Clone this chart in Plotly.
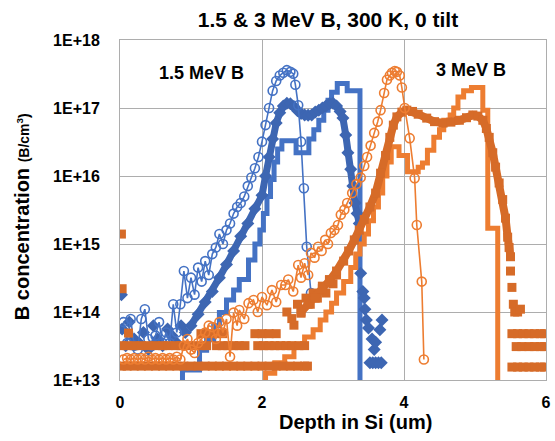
import plotly.graph_objects as go

# ---------------- 1.5 MeV B ----------------
# circles (thin line)
b_circ_x = [0.05, 0.10, 0.15, 0.20, 0.25, 0.30, 0.35, 0.40, 0.45, 0.50, 0.55, 0.60, 0.65, 0.70, 0.75,
            0.80, 0.85, 0.90, 0.95, 1.00, 1.05, 1.10, 1.15, 1.20, 1.25, 1.30, 1.35, 1.40, 1.45, 1.50,
            1.55, 1.60, 1.65, 1.70, 1.75, 1.80, 1.85, 1.90, 1.95, 2.00, 2.05, 2.10, 2.15, 2.20, 2.25,
            2.30, 2.35, 2.40, 2.44, 2.47, 2.51, 2.55, 2.59, 2.63, 2.69]
b_circ_y = [7.1e13, 3.5e13, 7.9e13, 3.2e13, 2.8e13, 7.9e13, 1.1e14, 4.0e13, 3.2e13, 4.5e13, 7.1e13, 3.5e13, 5.0e13, 3.5e13, 1.3e14,
            5.0e13, 1.3e14, 4.0e14, 1.6e14, 3.2e14, 1.8e14, 4.5e14, 2.8e14, 5.6e14, 3.5e14, 7.1e14, 8.9e14, 1.4e15, 1.0e15, 1.6e15,
            2.0e15, 2.8e15, 3.5e15, 4.0e15, 5.0e15, 7.1e15, 9.5e15, 1.3e16, 1.9e16, 3.2e16, 5.6e16, 1.0e17, 1.8e17, 2.5e17, 3.0e17,
            3.3e17, 3.6e17, 3.4e17, 3.2e17, 2.2e17, 1.1e17, 3.2e16, 6.6e15, 9.1e14, 1.9e14]

# diamonds: smooth profile
b_dia_x = [1.00, 1.10, 1.20, 1.30, 1.40, 1.50, 1.60, 1.70, 1.80, 1.90, 2.00, 2.05, 2.10, 2.15, 2.20, 2.25,
           2.30, 2.35, 2.40, 2.45, 2.50, 2.55, 2.60, 2.65, 2.70, 2.75, 2.80, 2.85, 2.90, 2.95, 3.00, 3.05,
           3.10, 3.14, 3.18, 3.21, 3.25, 3.28, 3.31, 3.34, 3.37]
b_dia_y = [6.3e13, 9.3e13, 1.4e14, 2.0e14, 3.2e14, 5.0e14, 7.9e14, 1.3e15, 2.0e15, 3.3e15, 5.2e15, 1.0e16, 1.9e16, 3.5e16, 6.0e16, 8.5e16,
           1.07e17, 1.17e17, 1.15e17, 1.05e17, 9.1e16, 8.3e16, 7.9e16, 7.8e16, 7.9e16, 8.7e16, 9.3e16, 1.0e17, 1.07e17, 1.15e17, 1.17e17, 1.07e17,
           8.9e16, 7.1e16, 4.0e16, 2.2e16, 1.26e16, 7.1e15, 4.0e15, 2.8e15, 2.0e15]
# diamonds: scattered low counts
b_dia_nx = [0.02, 0.03, 0.08, 0.13, 0.20, 0.27, 0.33, 0.40, 0.47, 0.53, 0.60, 0.67, 0.73, 0.80, 0.86, 0.92,
            3.39, 3.42, 3.44, 3.45, 3.47, 3.50, 3.55, 3.58, 3.60, 3.66, 3.69, 3.52, 3.56, 3.60, 3.64, 3.68]
b_dia_ny = [1.8e14, 5.6e13, 3.2e13, 7.1e13, 4.0e13, 3.5e13, 5.0e13, 2.8e13, 6.3e13, 4.0e13, 3.2e13, 5.6e13, 4.5e13, 3.5e13, 6.3e13, 5.0e13,
            3.7e14, 2.0e14, 1.6e14, 1.1e14, 7.6e13, 5.8e13, 4.0e13, 2.8e13, 3.6e13, 5.5e13, 7.6e13, 1.8e13, 1.8e13, 1.8e13, 1.8e13, 1.8e13]

# step histogram
b_step_x = [0.88, 0.88, 1.12, 1.22, 1.32, 1.40, 1.50, 1.60, 1.68, 1.81, 1.90, 1.97, 2.02, 2.07, 2.12, 2.17,
            2.22, 2.28, 2.48, 2.66, 2.73, 2.80, 2.87, 2.93, 2.98, 3.06, 3.20, 3.38]
b_step_y = [1e12, 1.4e13, 2.75e13, 3.9e13, 6.3e13, 9.8e13, 1.5e14, 2.1e14, 3.0e14, 5.8e14, 1.0e15, 1.6e15, 2.8e15, 5.0e15, 8.9e15, 1.6e16,
            2.5e16, 3.3e16, 2.2e16, 3.5e16, 4.8e16, 6.6e16, 9.3e16, 1.3e17, 1.7e17, 2.3e17, 1.8e17, 1e12]

# ---------------- 3 MeV B ----------------
o_circ_x = [0.05, 0.10, 0.15, 0.20, 0.25, 0.30, 0.35, 0.40, 0.45, 0.50, 0.55, 0.60, 0.65, 0.70, 0.75, 0.80, 0.85,
            0.90, 0.95, 1.00, 1.05, 1.10, 1.15, 1.20, 1.25, 1.30, 1.35, 1.40, 1.45, 1.50, 1.55, 1.60, 1.65, 1.68,
            1.75, 1.81, 1.88, 1.94, 2.00, 2.07, 2.14, 2.20, 2.27, 2.33, 2.37, 2.44, 2.51, 2.55, 2.60, 2.65, 2.69,
            2.74, 2.79, 2.84, 2.89, 2.93, 2.97, 3.02, 3.07, 3.11, 3.16, 3.20, 3.27, 3.33, 3.39, 3.44, 3.48, 3.53,
            3.58, 3.63, 3.67, 3.72, 3.76, 3.80, 3.83, 3.87, 3.90, 3.94, 3.97, 4.01, 4.08, 4.15, 4.18, 4.25, 4.28]
o_circ_y = [2.0e13, 2.1e13, 2.0e13, 2.1e13, 2.0e13, 2.1e13, 2.0e13, 2.2e13, 2.0e13, 2.1e13, 2.0e13, 2.1e13, 2.0e13, 2.1e13, 2.0e13, 2.2e13, 2.0e13,
            3.2e13, 4.0e13, 2.8e13, 2.5e13, 3.5e13, 4.0e13, 5.0e13, 6.3e13, 6.0e13, 4.0e13, 7.1e13, 5.0e13, 7.9e13, 2.2e13, 9.8e13, 6.3e13, 1.07e14,
            7.9e13, 1.35e14, 1.5e14, 1.0e14, 1.66e14, 1.26e14, 2.1e14, 1.4e14, 2.5e14, 2.5e14, 3.0e14, 2.0e14, 4.9e14, 3.2e14, 5.2e14, 3.5e14, 7.4e14,
            6.3e14, 9.1e14, 7.9e14, 1.15e15, 1.0e15, 1.45e15, 1.6e15, 1.9e15, 2.7e15, 3.2e15, 4.0e15, 5.6e15, 7.6e15, 9.5e15, 1.4e16, 1.9e16, 2.8e16,
            4.3e16, 6.3e16, 9.3e16, 1.66e17, 2.6e17, 3.0e17, 3.3e17, 3.5e17, 3.4e17, 3.0e17, 2.0e17, 1.0e17, 3.6e16, 9.3e15, 1.9e15, 2.8e14, 2.0e13]

# squares: smooth profile
o_sq_x = [2.55, 2.65, 2.75, 2.85, 2.95, 3.05, 3.15, 3.22, 3.30, 3.37, 3.44, 3.52, 3.60, 3.67, 3.74, 3.80,
          3.85, 3.90, 3.97, 4.04, 4.12, 4.20, 4.32, 4.43, 4.55, 4.66, 4.78, 4.88, 4.97, 5.04, 5.11, 5.16,
          5.20, 5.25, 5.29, 5.34, 5.39, 5.43, 5.46, 5.48, 5.50]
o_sq_y = [1.0e14, 1.3e14, 1.6e14, 2.2e14, 2.9e14, 4.0e14, 5.6e14, 7.9e14, 1.15e15, 1.6e15, 2.3e15, 3.5e15, 5.6e15, 1.1e16, 2.0e16, 3.7e16,
          5.6e16, 7.4e16, 8.7e16, 9.3e16, 8.9e16, 8.1e16, 7.1e16, 6.3e16, 6.0e16, 6.2e16, 6.6e16, 7.2e16, 7.9e16, 7.6e16, 6.6e16, 5.0e16,
          3.7e16, 2.2e16, 1.35e16, 7.9e15, 4.5e15, 2.4e15, 1.26e15, 8.9e14, 6.5e14]
# squares: scattered low counts
o_sq_nx = [0.02, 0.03, 0.12,
           0.02, 0.10, 0.20, 0.30, 0.40, 0.50, 0.60, 0.70, 0.80, 0.90, 1.00, 1.10, 1.20, 1.30, 1.40, 1.50, 1.60, 1.70,
           1.80, 1.90, 2.00, 2.10, 2.20, 2.30, 2.40, 2.50, 2.60, 2.64,
           0.02, 0.10, 0.20, 0.30, 0.40, 0.50, 0.60, 0.68, 0.78, 0.86, 0.98, 1.06, 1.14, 1.22, 1.36, 1.44, 1.52, 1.60,
           1.68, 1.76, 1.94, 2.02, 2.10, 2.18, 2.26, 2.34, 2.42, 2.52, 2.60,
           1.14, 1.24, 1.35, 1.45, 1.90, 2.00, 2.10, 2.20, 2.45,
           2.35, 2.42, 2.50, 2.55, 2.62, 2.68, 2.72, 2.78, 2.85, 2.90, 2.95, 3.00, 3.05,
           5.50, 5.52, 5.54, 5.56, 5.60, 5.64,
           5.52, 5.60, 5.68, 5.76, 5.84, 5.92, 5.98,
           5.58, 5.66, 5.76, 5.84, 5.92, 5.98,
           5.52, 5.60, 5.68, 5.76, 5.84, 5.92, 5.98]
o_sq_ny = [1.4e15, 2.2e14, 4.9e13,
           1.6e13, 1.6e13, 1.6e13, 1.6e13, 1.6e13, 1.6e13, 1.6e13, 1.6e13, 1.6e13, 1.6e13, 1.6e13, 1.6e13, 1.6e13, 1.6e13, 1.6e13, 1.6e13, 1.6e13, 1.6e13,
           1.6e13, 1.6e13, 1.6e13, 1.6e13, 1.6e13, 1.6e13, 1.6e13, 1.6e13, 1.6e13, 1.6e13,
           3.2e13, 3.2e13, 3.2e13, 3.2e13, 3.2e13, 3.2e13, 3.2e13, 3.2e13, 3.2e13, 3.2e13, 3.2e13, 3.2e13, 3.2e13, 3.2e13, 3.2e13, 3.2e13, 3.2e13, 3.2e13,
           3.2e13, 3.2e13, 3.2e13, 3.2e13, 3.2e13, 3.2e13, 3.2e13, 3.2e13, 3.2e13, 3.2e13, 3.2e13,
           4.8e13, 4.8e13, 4.8e13, 4.8e13, 4.8e13, 4.8e13, 4.8e13, 4.8e13, 6.4e13,
           1.0e14, 8.0e13, 1.3e14, 9.6e13, 1.6e14, 1.3e14, 1.9e14, 1.6e14, 2.4e14, 1.9e14, 3.0e14, 2.6e14, 3.5e14,
           4.0e14, 2.3e14, 1.3e14, 1.0e14, 1.0e14, 1.1e14,
           4.8e13, 4.8e13, 4.8e13, 4.8e13, 4.8e13, 4.8e13, 4.8e13,
           3.1e13, 3.1e13, 3.1e13, 3.1e13, 3.1e13, 3.1e13,
           1.55e13, 1.55e13, 1.55e13, 1.55e13, 1.55e13, 1.55e13, 1.55e13]

# step histogram
o_step_x = [2.05, 2.05, 2.18, 2.32, 2.45, 2.60, 2.72, 2.82, 2.90, 2.98, 3.05, 3.15, 3.25, 3.32, 3.38, 3.44,
            3.50, 3.57, 3.64, 3.70, 3.76, 3.82, 3.93, 4.05, 4.20, 4.26, 4.33, 4.42, 4.50, 4.56, 4.65, 4.70,
            4.76, 4.84, 4.95, 5.11, 5.18, 5.32]
o_step_y = [1e12, 1.26e13, 1.8e13, 2.2e13, 3.1e13, 4.3e13, 5.5e13, 7.6e13, 1.0e14, 1.35e14, 1.9e14, 2.8e14, 4.5e14, 7.1e14, 1.0e15, 1.4e15,
            2.2e15, 3.5e15, 5.6e15, 1.0e16, 1.6e16, 2.7e16, 2.0e16, 1.15e16, 1.35e16, 1.55e16, 2.4e16, 3.7e16, 4.8e16, 6.6e16, 7.9e16, 1.0e17,
            1.45e17, 1.8e17, 2.0e17, 9.3e16, 1.7e15, 1e12]

y_tickvals = [1e13, 1e14, 1e15, 1e16, 1e17, 1e18]
y_ticktext = ["1E+13", "1E+14", "1E+15", "1E+16", "1E+17", "1E+18"]
x_tickvals = [0, 2, 4, 6]
x_ticktext = ["0", "2", "4", "6"]

BLUE = "#4472C4"
BLUE_D = "#3D66B2"
ORANGE = "#ED7D31"
ORANGE_D = "#D66B28"
FONT = "Arial, Liberation Sans, sans-serif"

fig = go.Figure()
# blue
fig.add_trace(go.Scatter(x=b_step_x, y=b_step_y, mode="lines", line=dict(color=BLUE, width=5, shape="hv")))
fig.add_trace(go.Scatter(x=b_dia_nx, y=b_dia_ny, mode="markers",
                         marker=dict(symbol="diamond", size=10, color=BLUE_D)))
fig.add_trace(go.Scatter(x=b_dia_x, y=b_dia_y, mode="lines+markers", line=dict(color=BLUE_D, width=7),
                         marker=dict(symbol="diamond", size=10, color=BLUE_D)))
fig.add_trace(go.Scatter(x=b_circ_x, y=b_circ_y, mode="lines+markers", line=dict(color=BLUE, width=1.6),
                         marker=dict(symbol="circle-open", size=9, color=BLUE, line=dict(width=1.6, color=BLUE))))
# orange
fig.add_trace(go.Scatter(x=o_step_x, y=o_step_y, mode="lines", line=dict(color=ORANGE, width=5, shape="hv")))
fig.add_trace(go.Scatter(x=o_sq_nx, y=o_sq_ny, mode="markers",
                         marker=dict(symbol="square", size=9, color=ORANGE_D)))
fig.add_trace(go.Scatter(x=o_sq_x, y=o_sq_y, mode="lines+markers", line=dict(color=ORANGE_D, width=8),
                         marker=dict(symbol="square", size=9, color=ORANGE_D)))
fig.add_trace(go.Scatter(x=o_circ_x, y=o_circ_y, mode="lines+markers", line=dict(color=ORANGE, width=1.6),
                         marker=dict(symbol="circle-open", size=9, color=ORANGE, line=dict(width=1.6, color=ORANGE))))

GRID = "#ADADAD"
fig.update_layout(
    width=555, height=441,
    margin=dict(l=120, r=4, t=40, b=61),
    paper_bgcolor="white", plot_bgcolor="white",
    showlegend=False,
    font=dict(family=FONT, color="black"),
    title=dict(text="<b>1.5 & 3 MeV B, 300 K, 0 tilt</b>", x=328 / 555, xref="container", xanchor="center",
               y=1 - 20 / 441, yref="container", yanchor="middle", font=dict(size=21, family=FONT, color="black")),
    xaxis=dict(range=[0, 6], tickvals=x_tickvals, ticktext=["<b>%s</b>" % t for t in x_ticktext],
               tickfont=dict(size=16, family=FONT, color="black"), ticklabeloverflow="allow",
               showgrid=True, gridcolor=GRID, gridwidth=1, zeroline=False,
               showline=True, linecolor=GRID, linewidth=1, mirror=True, ticks="", ticklabelstandoff=8),
    yaxis=dict(type="log", range=[13, 18], tickvals=y_tickvals, ticktext=["<b>%s</b>" % t for t in y_ticktext],
               tickfont=dict(size=16, family=FONT, color="black"), ticklabeloverflow="allow",
               showgrid=True, gridcolor=GRID, gridwidth=1, zeroline=False,
               showline=True, linecolor=GRID, linewidth=1, mirror=True, ticks="", ticklabelstandoff=16),
)

ann = dict(showarrow=False, xref="paper", yref="paper", xanchor="center", yanchor="middle")
fig.add_annotation(text="<b>1.5 MeV B</b>", x=(202 - 120) / 431, y=(380 - 73) / 340,
                   font=dict(size=18, family=FONT, color="black"), **ann)
fig.add_annotation(text="<b>3 MeV B</b>", x=(475 - 120) / 431, y=(380 - 70) / 340,
                   font=dict(size=18, family=FONT, color="black"), **ann)
fig.add_annotation(text="<b>Depth in Si (um)</b>", x=(358 - 120) / 431, y=(380 - 422) / 340,
                   font=dict(size=20, family=FONT, color="black"), **ann)
fig.add_annotation(text="<b>B concentration <span style='font-size:14px'>(B/cm<sup>3</sup>)</span></b>",
                   x=(21 - 120) / 431, y=(380 - 217) / 340, textangle=-90,
                   font=dict(size=20, family=FONT, color="black"), **ann)

fig.write_html("out.html", config={"displayModeBar": False},
               post_script="document.body.style.margin='0';document.body.style.padding='0';")
